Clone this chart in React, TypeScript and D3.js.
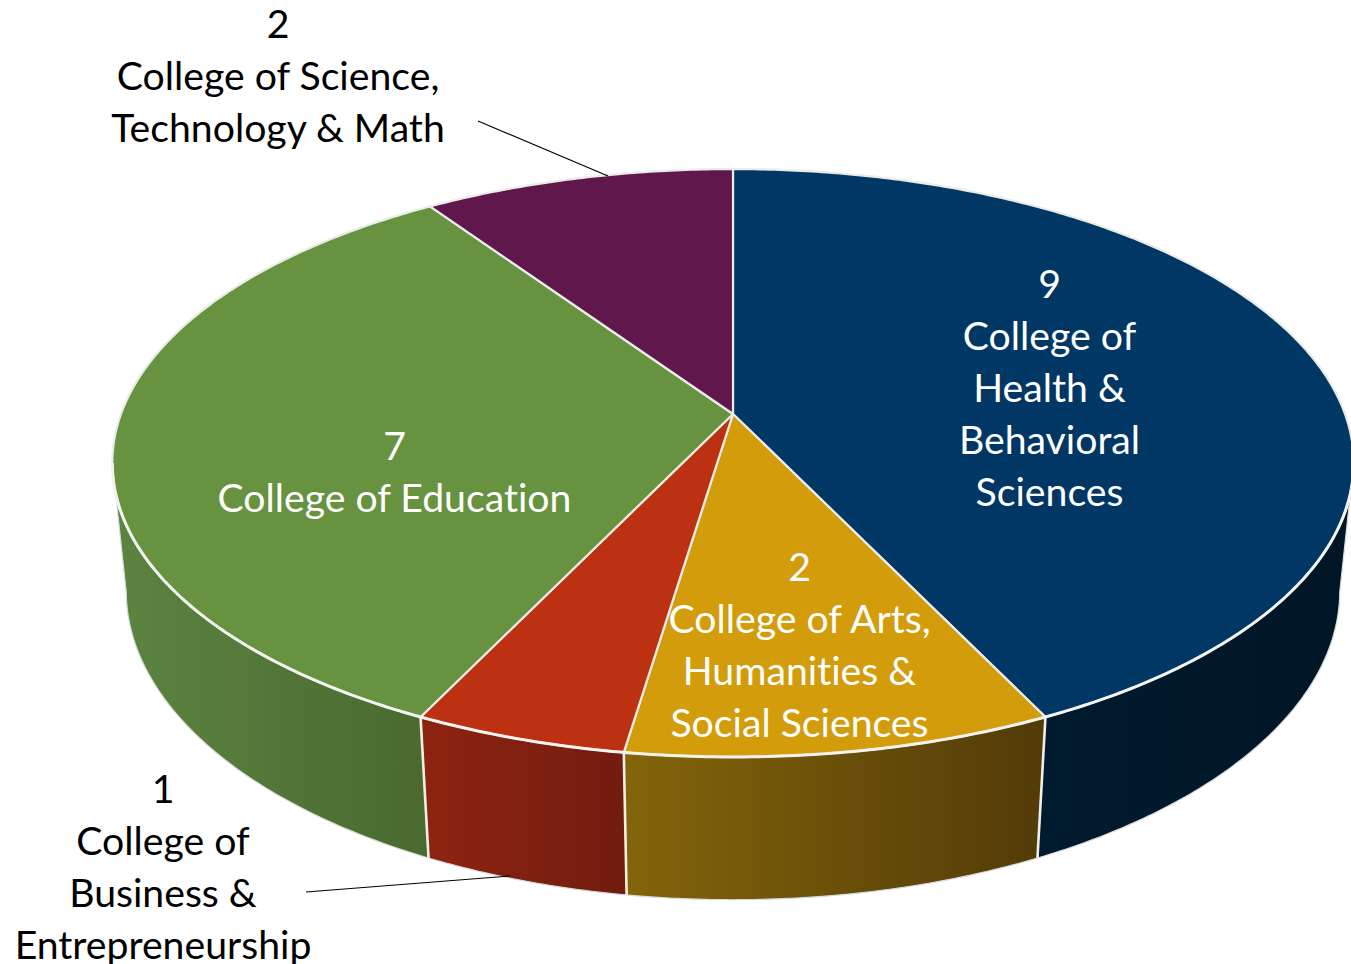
import React from "react";
import * as d3 from "d3";

const colleges = ["Health", "Arts", "Business", "Education", "Science"];
const counts = [9, 2, 1, 7, 2];
const topColors = ["#003764", "#d29c0a", "#bd3113", "#67923f", "#60174b"];
const sideFrom = ["#001a2e", "#84650a", "#8e2410", "#5c8440", "#4a1038"];
const sideTo = ["#001626", "#523b08", "#721c10", "#4a6a30", "#4a1038"];

const labelLines = [
  ["9", "College of", "Health &", "Behavioral", "Sciences"],
  ["2", "College of Arts,", "Humanities &", "Social Sciences"],
  ["1", "College of", "Business &", "Entrepreneurship"],
  ["7", "College of Education"],
  ["2", "College of Science,", "Technology & Math"],
];
const labelCenterX = [1049.5, 799.5, 163, 394.5, 278];
const labelFirstY = [284.5, 567.5, 789.5, 446.5, 24.5];
const labelColors = ["#ffffff", "#ffffff", "#000000", "#ffffff", "#000000"];
const leaders = [
  [[478, 121], [608, 176]],
  [[306, 892], [510, 876]],
];

const W = 1351, H = 964;
const CX = 733, CY = 414, RX = 612, RY = 285.8, K = 1 / 6;
const VPY = 6215, T0 = 0.0218;
const LINE = 52;
const FONT = 'Lato, "Open Sans", sans-serif';
const FS = 39.2;

const top = (a: number): [number, number] => {
  const u = Math.sin(a), v = -Math.cos(a), d = 1 - K * v;
  return [CX + (RX * u) / d, CY + (RY * v) / d];
};
const bottom = (a: number): [number, number] => {
  const [x, y] = top(a);
  const t = T0 / (1 + K * Math.cos(a));
  return [x + (CX - x) * t, y + (VPY - y) * t];
};
const samples = (a0: number, a1: number) => {
  const n = Math.max(2, Math.ceil(Math.abs(a1 - a0) / 0.01));
  const s = d3.scaleLinear().domain([0, n]).range([a0, a1]);
  return d3.range(n + 1).map((i) => s(i));
};

const line = d3.line<[number, number]>().x((d) => d[0]).y((d) => d[1]);
const arcs = d3.pie<number>().sort(null).value((d) => d)(counts);

// the side wall is visible between the two silhouette angles
const silhouetteR = Math.acos(-K);
const silhouetteL = 2 * Math.PI - silhouetteR;

export default function App() {
  return (
    <svg width={W} height={H} viewBox={`0 0 ${W} ${H}`} style={{ position: "absolute", left: 0, top: 0, display: "block" }}>
      <defs>
        {arcs.map((s, i) => {
          const a0 = Math.max(s.startAngle, silhouetteR), a1 = Math.min(s.endAngle, silhouetteL);
          if (a1 <= a0) return null;
          const xs = samples(a0, a1).map((a) => top(a)[0]);
          return (
            <linearGradient key={i} id={`side${i}`} gradientUnits="userSpaceOnUse" x1={d3.min(xs)} x2={d3.max(xs)} y1={0} y2={0}>
              <stop offset="0" stopColor={sideFrom[i]} />
              <stop offset="1" stopColor={sideTo[i]} />
            </linearGradient>
          );
        })}
      </defs>
      {arcs.map((s, i) => {
        const a0 = Math.max(s.startAngle, silhouetteR), a1 = Math.min(s.endAngle, silhouetteL);
        if (a1 <= a0) return null;
        const as = samples(a0, a1);
        const pts = [...as.map(top), ...as.slice().reverse().map(bottom)];
        return (
          <path key={colleges[i]} d={line(pts) + "Z"} fill={`url(#side${i})`} stroke="#d5dcdc" strokeWidth={1.2} strokeLinejoin="round" />
        );
      })}
      {[arcs[0].endAngle, arcs[1].endAngle, arcs[2].endAngle].map((a) => (
        <path key={a} d={line([top(a), bottom(a)]) || ""} stroke="#f0efe6" strokeWidth={2.6} fill="none" />
      ))}
      {arcs.map((s, i) => {
        const rim = samples(s.startAngle, s.endAngle).map(top);
        const pts: [number, number][] = [[CX, CY], ...rim];
        return (
          <path key={i} d={line(pts) + "Z"} fill={topColors[i]} stroke="#e9ece8" strokeWidth={2.2} strokeLinejoin="round" />
        );
      })}
      <path
        d={line(samples(silhouetteR, silhouetteL).map(top)) || ""}
        fill="none"
        stroke="#f2f3ee"
        strokeWidth={3}
      />
      {leaders.map((l, i) => (
        <path key={i} d={line(l as [number, number][]) || ""} stroke="#000" strokeWidth={1.2} fill="none" />
      ))}
      {labelLines.map((lines, i) => (
        <text key={i} fontFamily={FONT} fontSize={FS} fill={labelColors[i]} textAnchor="middle" style={{ fontVariantLigatures: "none" }}>
          {lines.map((t, j) => (
            <tspan key={j} x={labelCenterX[i]} y={labelFirstY[i] + j * LINE} dy="0.34em">{t}</tspan>
          ))}
        </text>
      ))}
    </svg>
  );
}
